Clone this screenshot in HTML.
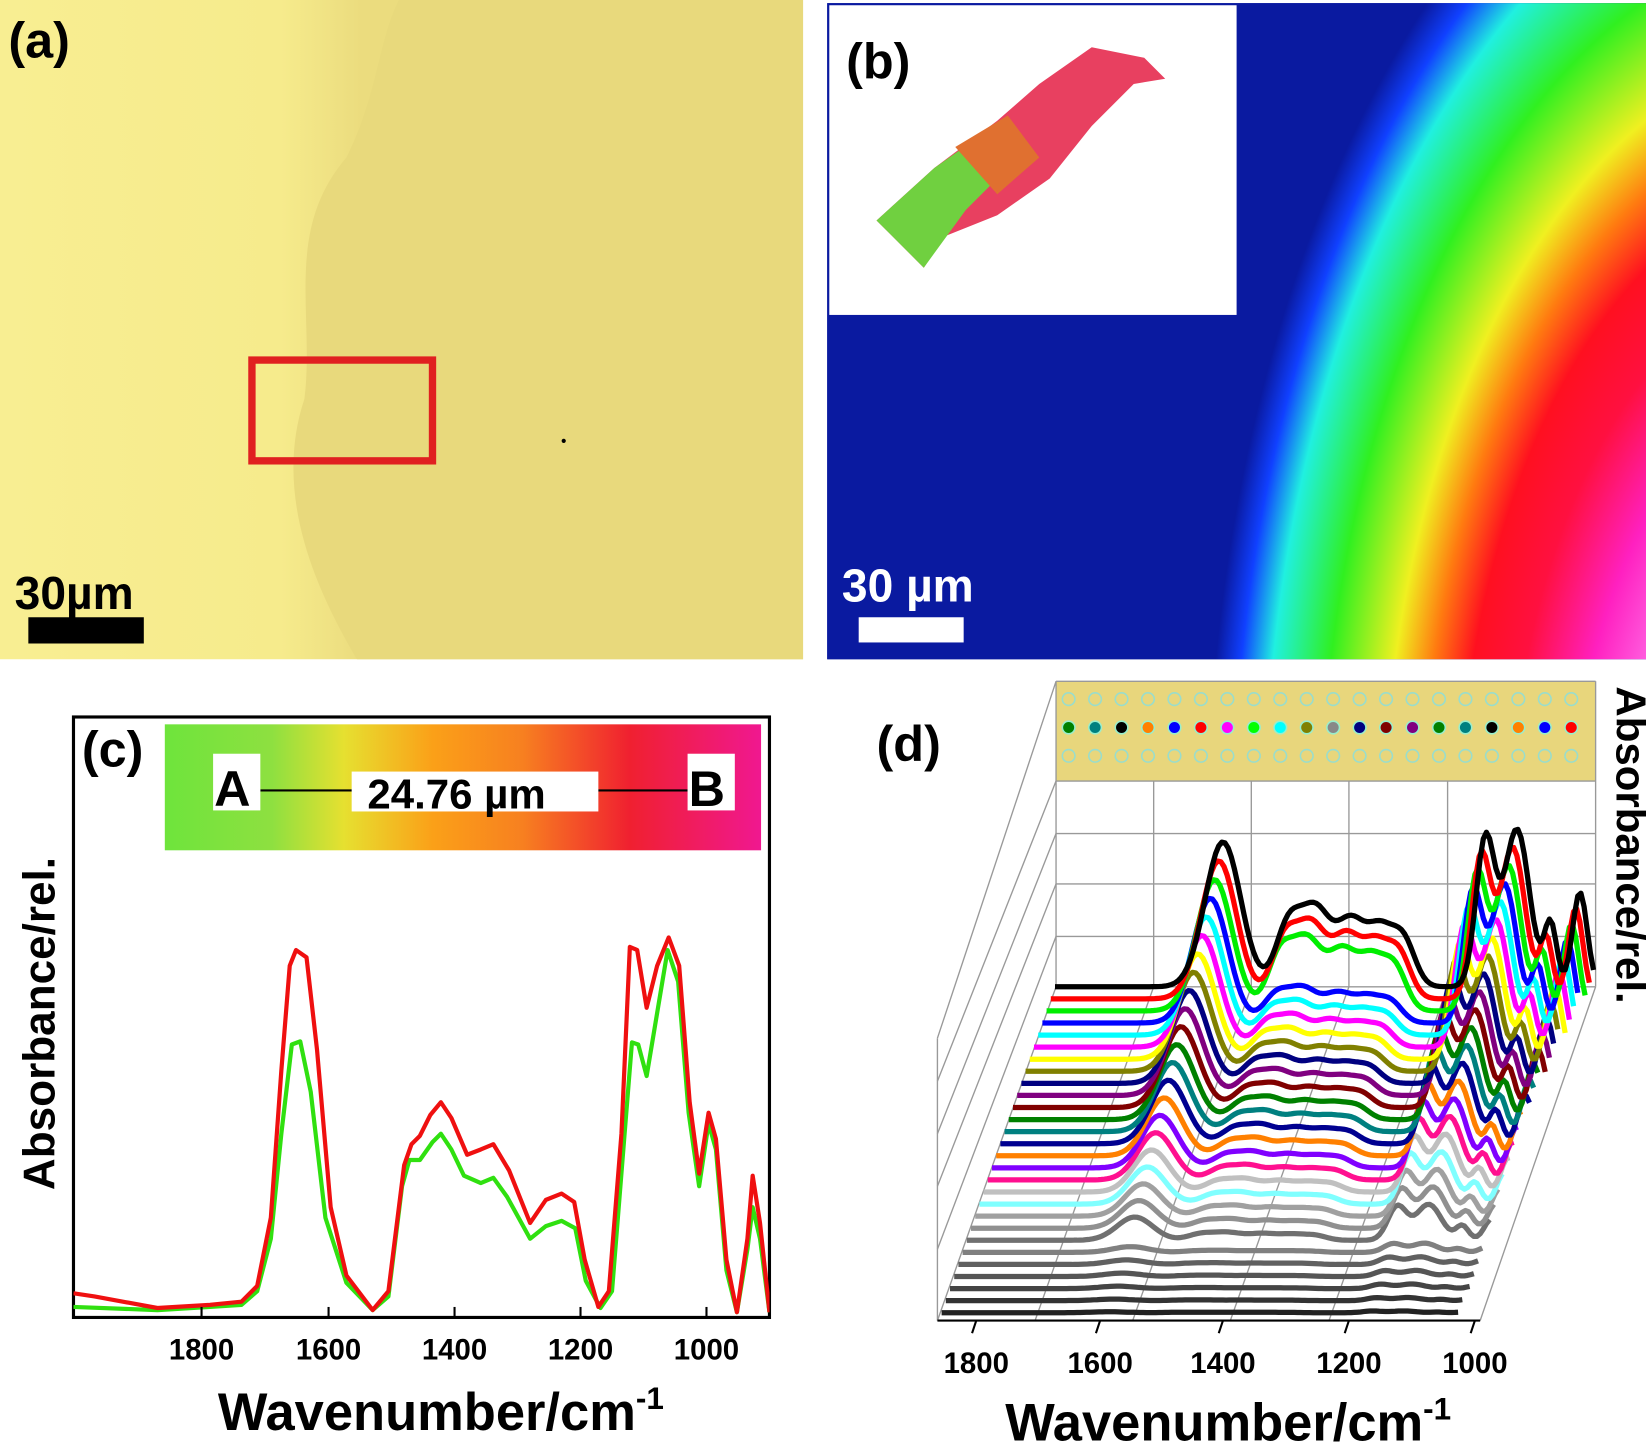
<!DOCTYPE html>
<html><head><meta charset="utf-8"><style>
html,body{margin:0;padding:0;background:#fff;}
svg{display:block;}
text{font-family:"Liberation Sans",Arial,sans-serif;font-weight:bold;}
</style></head><body>
<svg id="s" width="1646" height="1443" viewBox="0 0 1568 1374.6" preserveAspectRatio="none" xmlns="http://www.w3.org/2000/svg">
<defs>
<linearGradient id="ya" x1="0" y1="0" x2="1" y2="0">
<stop offset="0" stop-color="#f8ee92"/><stop offset="0.35" stop-color="#f6eb8c"/><stop offset="0.45" stop-color="#ebdc7e"/><stop offset="1" stop-color="#e8d97c"/>
</linearGradient>
<radialGradient id="rb" gradientUnits="userSpaceOnUse" cx="1750" cy="800" r="600" gradientTransform="translate(1750 800) scale(1 1.75) translate(-1750 -800)">
<stop offset="0" stop-color="#fff0ff"/><stop offset="0.3" stop-color="#ff80f0"/><stop offset="0.42" stop-color="#ff20c0"/>
<stop offset="0.52" stop-color="#ff1040"/><stop offset="0.6" stop-color="#ff1020"/><stop offset="0.66" stop-color="#ff7a10"/><stop offset="0.72" stop-color="#f0f020"/>
<stop offset="0.82" stop-color="#30f020"/><stop offset="0.91" stop-color="#20f0e0"/><stop offset="0.96" stop-color="#1040ff"/>
<stop offset="1" stop-color="#0a1aa0"/>
</radialGradient>
<linearGradient id="cb" x1="0" y1="0" x2="1" y2="0">
<stop offset="0" stop-color="#6ee43c"/><stop offset="0.18" stop-color="#8ee040"/><stop offset="0.3" stop-color="#e6e030"/>
<stop offset="0.45" stop-color="#fba018"/><stop offset="0.6" stop-color="#f78020"/><stop offset="0.78" stop-color="#f02030"/>
<stop offset="1" stop-color="#f01890"/>
</linearGradient>
<clipPath id="cc"><rect x="70" y="683" width="663" height="572"/></clipPath>
</defs>
<!-- panel a -->
<rect x="0" y="0" width="765" height="628" fill="url(#ya)"/>
<path d="M380,0 L765,0 765,628 340,628 C300,560 260,470 290,380 C300,300 270,220 330,150 C360,90 360,40 380,0Z" fill="#e8d97c"/>
<rect x="240" y="343" width="172" height="96" fill="none" stroke="#e02020" stroke-width="7"/>
<circle cx="537" cy="420" r="2" fill="#000"/>
<text x="8" y="55" font-size="48" fill="#000">(a)</text>
<text x="14" y="580" font-size="44" fill="#000">30µm</text>
<rect x="27" y="588" width="110" height="25" fill="#000"/>
<!-- panel b -->
<rect x="788" y="3" width="780" height="625" fill="#0a1aa0"/>
<rect x="788" y="3" width="780" height="625" fill="url(#rb)"/>
<rect x="790" y="5" width="388" height="295" fill="#fff"/>
<path d="M835,210 L890,160 950,115 990,80 1040,45 1090,55 1110,75 1080,80 1040,120 1000,170 950,205 900,225 880,255Z" fill="#e84060"/>
<path d="M835,210 L890,160 940,125 960,160 920,200 880,255Z" fill="#70d040"/>
<path d="M910,140 L960,110 990,150 950,185Z" fill="#e07030"/>
<text x="806" y="75" font-size="48" fill="#000">(b)</text>
<text x="802" y="573" font-size="44" fill="#fff">30 µm</text>
<rect x="818" y="588" width="100" height="24" fill="#fff"/>
<!-- panel c -->
<rect x="70" y="683" width="663" height="572" fill="#fff" stroke="#000" stroke-width="3"/>
<rect x="157" y="690" width="568" height="120" fill="url(#cb)"/>
<line x1="248" y1="753" x2="655" y2="753" stroke="#000" stroke-width="2"/>
<rect x="203" y="718" width="45" height="54" fill="#fff"/><text x="204" y="768" font-size="48">A</text>
<rect x="655" y="718" width="45" height="54" fill="#fff"/><text x="656" y="768" font-size="48">B</text>
<rect x="335" y="735" width="235" height="38" fill="#fff"/><text x="350" y="770" font-size="40">24.76 µm</text>
<text x="78" y="730" font-size="48">(c)</text>
<g clip-path="url(#cc)" fill="none" stroke-width="4" stroke-linejoin="round">
<path stroke="#30e010" d="M70,1245 L150,1248 200,1245 230,1243 245,1230 258,1180 268,1080 278,995 286,992 296,1040 310,1160 330,1222 355,1248 370,1235 383,1130 390,1105 400,1105 412,1088 420,1080 430,1095 442,1120 458,1127 470,1122 483,1140 505,1180 520,1168 535,1163 548,1170 558,1220 572,1246 583,1230 595,1080 602,993 608,995 616,1025 626,965 636,905 646,935 656,1060 666,1130 675,1070 682,1095 692,1210 702,1250 712,1190 717,1150 724,1180 733,1250"/>
<path stroke="#ef1010" d="M70,1232 L90,1235 150,1246 200,1243 230,1240 245,1225 258,1160 268,1020 276,920 282,905 292,912 302,1000 315,1150 330,1215 355,1248 370,1230 385,1110 392,1090 400,1082 410,1062 420,1050 430,1065 445,1100 458,1095 470,1090 485,1115 505,1165 520,1143 535,1137 547,1145 557,1200 570,1245 580,1230 592,1080 600,902 607,905 616,960 626,920 637,893 647,920 657,1050 666,1118 675,1060 682,1085 692,1200 702,1250 712,1180 717,1120 724,1165 733,1250"/>
</g>
<g font-size="28" text-anchor="middle">
<text x="192" y="1295">1800</text><text x="313" y="1295">1600</text><text x="433" y="1295">1400</text><text x="553" y="1295">1200</text><text x="673" y="1295">1000</text>
</g>
<g stroke="#000" stroke-width="2"><line x1="192" y1="1255" x2="192" y2="1245"/><line x1="313" y1="1255" x2="313" y2="1245"/><line x1="433" y1="1255" x2="433" y2="1245"/><line x1="553" y1="1255" x2="553" y2="1245"/><line x1="673" y1="1255" x2="673" y2="1245"/></g>
<text x="420" y="1362" font-size="50" text-anchor="middle">Wavenumber/cm<tspan font-size="30" dy="-20">-1</tspan></text>
<text transform="translate(52,975) rotate(-90)" font-size="42" text-anchor="middle">Absorbance/rel.</text>
<!-- panel d -->
<text x="835" y="725" font-size="48">(d)</text>
<rect x="1006" y="649" width="514" height="95" fill="#e8d67c"/>
<g id="dots"></g>
<g stroke="#999" stroke-width="1.3" fill="none">
<line x1="1006" y1="649" x2="1006" y2="940"/>
<line x1="1006" y1="649" x2="1520" y2="649"/>
<line x1="1006" y1="744" x2="1520" y2="744"/>
<line x1="1006" y1="794" x2="1520" y2="794"/>
<line x1="1006" y1="842" x2="1520" y2="842"/>
<line x1="1006" y1="892" x2="1520" y2="892"/>
<line x1="1006" y1="940" x2="1520" y2="940"/>
<line x1="1099" y1="744" x2="1099" y2="940"/><line x1="1192" y1="744" x2="1192" y2="940"/><line x1="1285" y1="744" x2="1285" y2="940"/><line x1="1379" y1="744" x2="1379" y2="940"/><line x1="1520" y1="649" x2="1520" y2="940"/>
<line x1="893" y1="989" x2="893" y2="1258"/>
<line x1="893" y1="989" x2="1006" y2="649"/>
<line x1="893" y1="1030" x2="1006" y2="744"/>
<line x1="893" y1="1080" x2="1006" y2="794"/>
<line x1="893" y1="1130" x2="1006" y2="842"/>
<line x1="893" y1="1190" x2="1006" y2="892"/>
<line x1="893" y1="1258" x2="1006" y2="940"/>
<line x1="986" y1="1258" x2="1099" y2="940"/><line x1="1079" y1="1258" x2="1192" y2="940"/><line x1="1172" y1="1258" x2="1285" y2="940"/><line x1="1266" y1="1258" x2="1379" y2="940"/><line x1="1410" y1="1258" x2="1520" y2="940"/>
</g>
<g id="curves" fill="none" stroke-width="5" stroke-linejoin="round"></g>
<line x1="893" y1="1258" x2="1410" y2="1258" stroke="#000" stroke-width="2"/>
<g stroke="#000" stroke-width="2"><line x1="930" y1="1258" x2="926" y2="1270"/><line x1="1048" y1="1258" x2="1044" y2="1270"/><line x1="1165" y1="1258" x2="1161" y2="1270"/><line x1="1285" y1="1258" x2="1281" y2="1270"/><line x1="1405" y1="1258" x2="1401" y2="1270"/></g>
<g font-size="28" text-anchor="middle">
<text x="930" y="1308">1800</text><text x="1048" y="1308">1600</text><text x="1165" y="1308">1400</text><text x="1285" y="1308">1200</text><text x="1405" y="1308">1000</text>
</g>
<text x="1170" y="1372" font-size="50" text-anchor="middle">Wavenumber/cm<tspan font-size="30" dy="-20">-1</tspan></text>
<text transform="translate(1540,805) rotate(90)" font-size="40" text-anchor="middle">Absorbance/rel.</text>
</svg>
<script>
var NS="http://www.w3.org/2000/svg";
var cols=["#000","#f00","#0e0","#00f","#0ff","#f0f","#ff0","#808000","#000080","#800080","#800000","#008000","#008080","#000090","#ff8000","#8000ff","#ff1090","#c0c0c0","#80ffff","#a0a0a0","#909090","#707070","#808080","#606060","#555","#444","#333","#222"];
var dc=["#008000","#008080","#000","#ff8000","#00f","#f00","#f0f","#0f0","#0ff","#808000","#888","#000080","#800000","#800080","#008000","#008080","#000","#ff8000","#00f","#f00"];
var dg=document.getElementById("dots");
for(var r=0;r<3;r++)for(var k=0;k<20;k++){var c=document.createElementNS(NS,"circle");c.setAttribute("cx",1018+k*25.2);c.setAttribute("cy",666+r*27);c.setAttribute("r",6);
if(r==1){c.setAttribute("fill",dc[k]);c.setAttribute("stroke","#9ec");}else{c.setAttribute("fill","none");c.setAttribute("stroke","#9dc");}c.setAttribute("stroke-width",1.5);dg.appendChild(c);}
function g(o,c,h,s){return h*Math.exp(-(o-c)*(o-c)/(2*s*s));}
var cg=document.getElementById("curves");
var N=28;
for(var i=N-1;i>=0;i--){
 var x0=1005-i*4,y0=940+i*11.5;
 var t=i/(N-1);
 var a1=135*Math.pow(1-t,1.3)+3, a2=(i<3?1:0.5)*Math.pow(1-t,1.2)+0.02, a3=Math.pow(1-t*0.95,1.1);
 if(i>21){a1*=0.3;a2*=0.3;a3*=0.3;}
 var d="";
 for(var o=0;o<=515-i*0.8;o+=3){
  var y=g(o,160,a1,17)+a2*(g(o,222,55,12)+g(o,248,70,14)+g(o,282,60,14)+g(o,310,48,12)+g(o,332,42,11))
   +a3*(g(o,410,140,9)+g(o,440,150,12)+g(o,472,60,6)+g(o,500,90,7));
  d+=(o==0?"M":"L")+(x0+o).toFixed(1)+","+(y0-y).toFixed(1)+" ";
 }
 var p=document.createElementNS(NS,"path");p.setAttribute("d",d);p.setAttribute("stroke",cols[i]);cg.appendChild(p);
}
</script>
</body></html>
